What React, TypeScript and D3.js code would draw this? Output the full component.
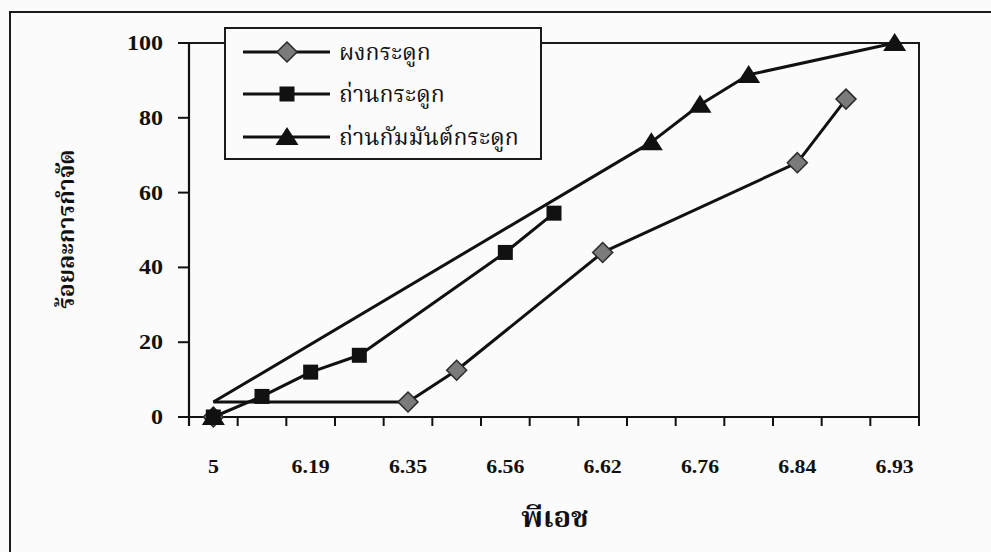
import React from 'react';
import * as d3 from 'd3';

// pH categories along the x axis; only every second one carries a label
const CATEGORY_COUNT = 15;
const PH_LABELS = ['5', '6.19', '6.35', '6.56', '6.62', '6.76', '6.84', '6.93'];
const PH_LABEL_CATS = [0, 2, 4, 6, 8, 10, 12, 14];

const Y_TICKS = [0, 20, 40, 60, 80, 100];

const SERIES_NAMES = ['ผงกระดูก', 'ถ่านกระดูก', 'ถ่านกัมมันต์กระดูก'];

// bone powder
const POWDER_CATS = [0, 4, 5, 8, 12, 13];
const POWDER_VALUES = [0, 4, 12.5, 44, 68, 85];
// bone charcoal
const CHAR_CATS = [0, 1, 2, 3, 6, 7];
const CHAR_VALUES = [0, 5.5, 12, 16.5, 44, 54.5];
// activated bone charcoal
const ACTIVE_CATS = [0, 9, 10, 11, 14];
const ACTIVE_VALUES = [0, 73.5, 83.5, 91.5, 100];

// value at which each trace leaves the first category
const LINE_ORIGINS = [4, 0, 4];

const W = 991;
const H = 552;
const PLOT = { left: 189, right: 919, top: 43, bottom: 417 };

const THAI =
  "'Noto Serif Thai', 'Noto Sans Thai Looped', Norasi, Kinnari, Garuda, Loma, 'Noto Sans Thai', sans-serif";
const SERIF = "'Liberation Serif', 'Times New Roman', serif";

type Shape = 'diamond' | 'square' | 'triangle';

function Marker({ shape, x, y }: { shape: Shape; x: number; y: number }) {
  if (shape === 'diamond') {
    const r = 10;
    return (
      <path
        d={`M${x},${y - r}L${x + r},${y}L${x},${y + r}L${x - r},${y}Z`}
        fill="#7b7b7b"
        stroke="#2a2a2a"
        strokeWidth={1.5}
      />
    );
  }
  if (shape === 'square') {
    const s = 15;
    return <rect x={x - s / 2} y={y - s / 2} width={s} height={s} fill="#111" />;
  }
  const w = 23;
  const h = 18;
  return (
    <path
      d={`M${x},${y - h * 0.55}L${x + w / 2},${y + h * 0.45}L${x - w / 2},${y + h * 0.45}Z`}
      fill="#111"
    />
  );
}

export default function App() {
  const x = d3
    .scaleBand<number>()
    .domain(d3.range(CATEGORY_COUNT))
    .range([PLOT.left, PLOT.right])
    .paddingInner(0)
    .paddingOuter(0);
  const cx = (c: number) => (x(c) as number) + x.bandwidth() / 2;
  const y = d3.scaleLinear().domain([0, 100]).range([PLOT.bottom, PLOT.top]);

  const series: { shape: Shape; cats: number[]; values: number[] }[] = [
    { shape: 'diamond', cats: POWDER_CATS, values: POWDER_VALUES },
    { shape: 'square', cats: CHAR_CATS, values: CHAR_VALUES },
    { shape: 'triangle', cats: ACTIVE_CATS, values: ACTIVE_VALUES },
  ];

  const line = d3
    .line<[number, number]>()
    .x((d) => cx(d[0]))
    .y((d) => y(d[1]));

  const boundaries = d3.range(CATEGORY_COUNT + 1).map((i) => PLOT.left + i * x.bandwidth());

  const legend = { x: 225, y: 28, w: 316, h: 131 };
  const legendRows = [52, 94, 137];

  return (
    <svg
      width={W}
      height={H}
      style={{ position: 'absolute', left: 0, top: 0, background: '#fbfbfb' }}
    >
      {/* outer chart frame */}
      <rect x={10} y={12} width={W + 20} height={H + 20} fill="none" stroke="#1a1a1a" strokeWidth={2} />

      {/* plot frame: top and right edges */}
      <path
        d={`M${PLOT.left},${PLOT.top}H${PLOT.right}V${PLOT.bottom}`}
        fill="none"
        stroke="#1a1a1a"
        strokeWidth={2}
      />

      {/* y axis */}
      <line x1={PLOT.left} x2={PLOT.left} y1={PLOT.top} y2={PLOT.bottom + 9} stroke="#111" strokeWidth={2.2} />
      {Y_TICKS.map((t) => (
        <g key={t}>
          <line x1={PLOT.left - 11} x2={PLOT.left} y1={y(t)} y2={y(t)} stroke="#111" strokeWidth={2} />
          <text
            transform={`translate(163,${y(t) + 7}) scale(1.2,1)`}
            textAnchor="end"
            fontFamily={SERIF}
            fontWeight="bold"
            fontSize={20}
            fill="#111"
          >
            {t}
          </text>
        </g>
      ))}

      {/* x axis */}
      <line x1={PLOT.left - 11} x2={PLOT.right} y1={PLOT.bottom} y2={PLOT.bottom} stroke="#111" strokeWidth={2.2} />
      {boundaries.map((b, i) => (
        <line key={i} x1={b} x2={b} y1={PLOT.bottom} y2={PLOT.bottom + 9} stroke="#111" strokeWidth={2} />
      ))}
      {PH_LABELS.map((lab, i) => (
        <text
          key={lab}
          transform={`translate(${cx(PH_LABEL_CATS[i])},473) scale(1.15,1)`}
          textAnchor="middle"
          fontFamily={SERIF}
          fontWeight="bold"
          fontSize={19}
          fill="#111"
        >
          {lab}
        </text>
      ))}

      {/* axis titles */}
      <text
        x={555}
        y={527}
        textAnchor="middle"
        fontFamily={THAI}
        fontWeight="bold"
        fontSize={29}
        fill="#111"
      >
        พีเอช
      </text>
      <text
        transform="translate(74,229) rotate(-90)"
        textAnchor="middle"
        fontFamily={THAI}
        fontWeight="bold"
        fontSize={23}
        fill="#111"
      >
        ร้อยละการกำจัด
      </text>

      {/* series */}
      {series.map((s, si) => {
        const pts: [number, number][] = s.cats.map((c, i) => [c, i === 0 ? LINE_ORIGINS[si] : s.values[i]]);
        return (
          <g key={si}>
            <path d={line(pts) ?? ''} fill="none" stroke="#111" strokeWidth={3} strokeLinejoin="round" />
            {s.cats.map((c, i) => (
              <Marker key={i} shape={s.shape} x={cx(c)} y={y(s.values[i])} />
            ))}
          </g>
        );
      })}

      {/* legend */}
      <rect x={legend.x} y={legend.y} width={legend.w} height={legend.h} fill="#fbfbfb" stroke="#1a1a1a" strokeWidth={2} />
      {SERIES_NAMES.map((name, i) => (
        <g key={name}>
          <line x1={243} x2={330} y1={legendRows[i]} y2={legendRows[i]} stroke="#111" strokeWidth={3} />
          <Marker shape={series[i].shape} x={287} y={legendRows[i]} />
          <text
            x={339}
            y={legendRows[i] + 8}
            fontFamily={THAI}
            fontSize={23}
            fill="#111"
          >
            {name}
          </text>
        </g>
      ))}
    </svg>
  );
}
